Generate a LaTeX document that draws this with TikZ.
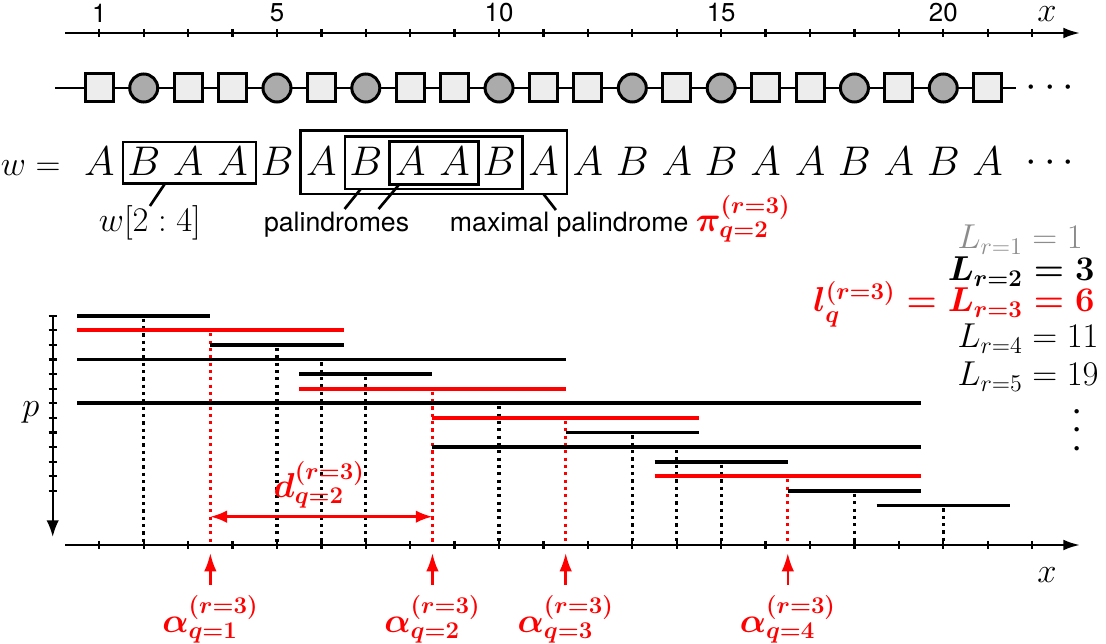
\documentclass[tikz,border=0pt]{standalone}
\usepackage{fontspec}
\setsansfont{TeX Gyre Heros}
\usetikzlibrary{arrows.meta,fit,calc}
\begin{document}
\begin{tikzpicture}[x=26.652pt,y=-0.6pt,
  every node/.style={inner sep=0pt, outer sep=0pt},
  mtxt/.style={font=\fontsize{20}{24}\selectfont},
  btxt/.style={font=\fontsize{20}{24}\selectfont\boldmath},
  ltxt/.style={font=\fontsize{22}{26}\selectfont},
  lbtxt/.style={font=\fontsize{22}{26}\selectfont\boldmath},
  wtxt/.style={font=\fontsize{26}{30}\selectfont},
  dtxt/.style={font=\fontsize{26}{30}\selectfont},
  stxt/.style={font=\fontsize{16}{19}\selectfont\sffamily},
  ntxt/.style={font=\fontsize{15.5}{18}\selectfont\sffamily},
  axisline/.style={line width=1.4pt},
  tk/.style={line width=1.4pt},
  cellA/.style={draw, rectangle, line width=1.8pt, fill=black!7, minimum size=16.8pt},
  cellB/.style={draw, circle, line width=1.8pt, fill=black!33, minimum size=16.8pt},
  chain/.style={line width=1.5pt},
  wbox/.style={draw, line width=1.6pt, inner sep=0pt},
  leader/.style={line width=1.6pt},
  bar/.style={line width=2.3pt},
  dotline/.style={line width=1.9pt, dash pattern=on 1.9pt off 2.5pt},
  axtip/.style={-{Latex[length=10pt,width=6.5pt]}},
  redarrow/.style={red, line width=1.5pt, -{Latex[length=11pt,width=7.5pt]}},
]
\useasboundingbox (-1.2355,0) rectangle (23.664,644);

% ---------- top axis ----------
\coordinate (tax0) at (0.23,33);
\coordinate (tax1) at (23.077,33);
\draw[axisline,axtip] (tax0) -- (tax1);
\foreach \i in {1,...,22} \draw[tk] (\i,29) -- (\i,37);
\foreach \i in {1,5,10,15,20} \node[ntxt] (tn\i) at (\i,13) {\i};
\node[mtxt] (tx) at (22.335,14) {$x$};

% ---------- cells and word ----------
\foreach \i/\l in {1/A,2/B,3/A,4/A,5/B,6/A,7/B,8/A,9/A,10/B,11/A,12/A,13/B,14/A,15/B,16/A,17/A,18/B,19/A,20/B,21/A} {
  \node[cell\l] (c\i) at (\i,88) {};
  \node[wtxt, anchor=base] (w\i) at (\i,176) {$\l$};
}
\coordinate (cs) at (0.003,88);
\coordinate (ce) at (21.64,88);
\draw[chain] (cs) -- (c1);
\foreach \i [evaluate=\i as \j using int(\i+1)] in {1,...,20} \draw[chain] (c\i) -- (c\j);
\draw[chain] (c21) -- (ce);
\node[dtxt] (cdots) at (22.4,88) {$\cdots$};

\node[mtxt, anchor=base east] (weq) at (0.127,176) {$w=$};
\node[dtxt] (wdots) at (22.4,163) {$\cdots$};

% boxes
\node[wbox, fit={(1.53,142) (4.53,183.5)}] (b24) {};
\node[wbox, fit={(5.53,130.7) (11.53,194)}] (b611) {};
\node[wbox, fit={(6.53,136.3) (10.53,189)}] (b710) {};
\node[wbox, fit={(7.53,141.7) (9.53,184.3)}] (b89) {};

% labels under the word
\node[mtxt, anchor=north] (lw) at (2.14,206) {$w[2:4]$};
\node[stxt, anchor=north] (lp) at (6.342,212) {palindromes};
\node[stxt, anchor=base west] (lm) at (8.895,232) {maximal palindrome \textcolor{red}{\fontsize{22}{26}\selectfont\boldmath$\pi^{(r=3)}_{q=2}$}};
\draw[leader] ($(b24.south west)+(0.95,0)$) -- (lw.north);
\draw[leader] ($(b710.south west)+(0.355,0)$) -- ($(lp.north)+(0.18,-3)$);
\draw[leader] ($(b89.south west)+(0.224,0)$) -- ($(lp.north)+(0.945,-3)$);
\draw[leader] ($(b611.south west)+(5.47,0)$) -- ($(lm.base west)+(2.385,-22)$);

% ---------- L values (aligned at =) ----------
\node[ltxt, anchor=base east, text=black!45] (L1) at (21.79,249) {$L_{r=1}$};
\node[ltxt, anchor=base west, text=black!45] (V1) at (21.79,249) {${}= 1$};
\node[lbtxt, anchor=base east] (L2) at (21.79,281) {$L_{r=2}$};
\node[lbtxt, anchor=base west] (V2) at (21.79,281) {${}= 3$};
\node[lbtxt, anchor=base east, text=red] (L3) at (21.79,312) {$l^{(r=3)}_q = L_{r=3}$};
\node[lbtxt, anchor=base west, text=red] (V3) at (21.79,312) {${}= 6$};
\node[ltxt, anchor=base east] (L4) at (21.79,348) {$L_{r=4}$};
\node[ltxt, anchor=base west] (V4) at (21.79,348) {${}= 11$};
\node[ltxt, anchor=base east] (L5) at (21.79,386) {$L_{r=5}$};
\node[ltxt, anchor=base west] (V5) at (21.79,386) {${}= 19$};
\node[dtxt, rotate=90] (vdots) at (23.03,430) {$\cdots$};

% ---------- p axis ----------
\coordinate (pax0) at (-0.049,315);
\coordinate (pax1) at (-0.049,537);
\draw[axisline,-{Latex[length=10pt,width=7.5pt]}] (pax0) -- (pax1);
\foreach \k in {0,...,12} \draw[tk] (-0.139,{315.7+14.6*\k}) -- (0.041,{315.7+14.6*\k});
\node[mtxt] (plab) at (-0.538,412) {$p$};

% ---------- dotted lines and bars ----------
\foreach \k/\a/\b/\c in {1/0.5/3.5/black,2/0.5/6.5/red,3/3.5/6.5/black,4/0.5/11.5/black,5/5.5/8.5/black,6/5.5/11.5/red,7/0.5/19.5/black,8/8.5/14.5/red,9/11.5/14.5/black,10/8.5/19.5/black,11/13.5/16.5/black,12/13.5/19.5/red,13/16.5/19.5/black,14/18.5/21.5/black} {
  \pgfmathsetmacro\yy{315.7+14.6*(\k-1)}
  \pgfmathsetmacro\xm{(\a+\b)/2}
  \draw[dotline,\c] (\xm,\yy+3) -- (\xm,545);
}
\foreach \k/\a/\b/\c in {1/0.5/3.5/black,2/0.5/6.5/red,3/3.5/6.5/black,4/0.5/11.5/black,5/5.5/8.5/black,6/5.5/11.5/red,7/0.5/19.5/black,8/8.5/14.5/red,9/11.5/14.5/black,10/8.5/19.5/black,11/13.5/16.5/black,12/13.5/19.5/red,13/16.5/19.5/black,14/18.5/21.5/black} {
  \pgfmathsetmacro\yy{315.7+14.6*(\k-1)}
  \draw[bar,\c] (\a,\yy) -- (\b,\yy);
}

% ---------- bottom axis ----------
\coordinate (bax0) at (0.23,545);
\coordinate (bax1) at (23.077,545);
\draw[axisline,axtip] (bax0) -- (bax1);
\foreach \i in {1,...,22} \draw[tk] (\i,541) -- (\i,549);
\node[mtxt] (bx) at (22.335,575) {$x$};

% ---------- d arrow ----------
\coordinate (d1) at (3.5,516.7);
\coordinate (d2) at (8.5,516.7);
\draw[red, line width=1.5pt, {Latex[length=10pt,width=7.5pt]}-{Latex[length=10pt,width=7.5pt]}] (d1) -- (d2);
\node[btxt, text=red, anchor=south] (dl) at (5.95,508) {$d^{(r=3)}_{q=2}$};

% ---------- alpha arrows ----------
\foreach \i/\x in {1/3.5,2/8.5,3/11.5,4/16.5} {
  \coordinate (ab\i) at (\x,585);
  \coordinate (at\i) at (\x,553);
  \draw[redarrow] (ab\i) -- (at\i);
  \node[btxt, text=red, anchor=north] (al\i) at (\x,596) {$\alpha^{(r=3)}_{q=\i}$};
}
\end{tikzpicture}
\end{document}
